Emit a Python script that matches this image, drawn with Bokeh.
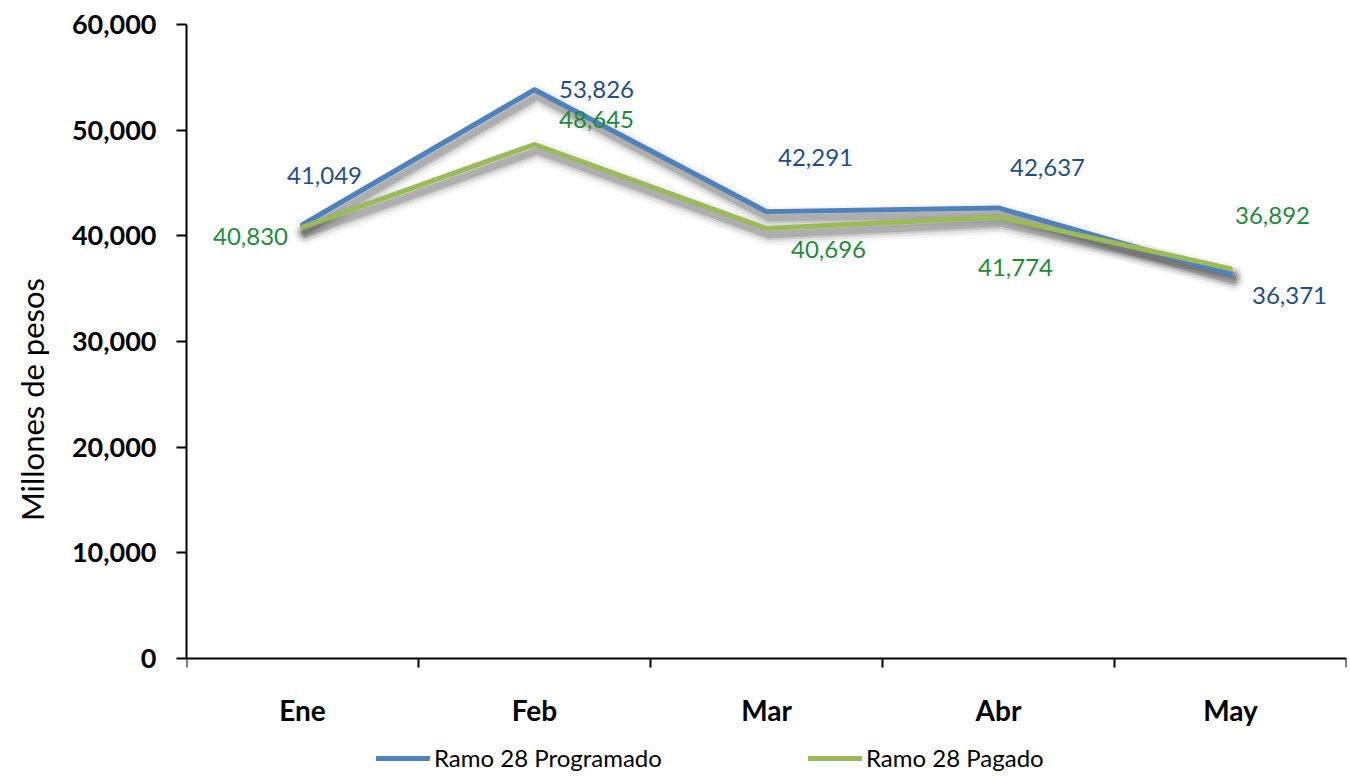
from bokeh.plotting import figure
from bokeh.models import (ColumnDataSource, FixedTicker, NumeralTickFormatter,
                          Legend, LegendItem, Range1d)
from bokeh.core.properties import value
from bokeh.embed import file_html
from bokeh.resources import INLINE

months = ["Ene", "Feb", "Mar", "Abr", "May"]
programado = [41049, 53826, 42291, 42637, 36371]
pagado = [40830, 48645, 40696, 41774, 36892]
y_ticks = [0, 10000, 20000, 30000, 40000, 50000, 60000]

# label pixel offsets (dx, dy: screen, positive = down) relative to points
prog_dx = [22, 62, 49, 49, 59]
prog_dy = [-49, 0, -54, -40, 21]
pag_dx = [-52, 62, 62, 17, 42]
pag_dy = [9, -25, 21, 50, -53]

FONT = "Lato"
xs = [i + 0.5 for i in range(len(months))]

# frame extends below the zero line to hold the category labels and legend
FRAME_H = 750
ZERO_PX = 634          # pixels from top of frame down to the zero line
y_min = -(FRAME_H - ZERO_PX) / ZERO_PX * 60000

p = figure(frame_width=1160, frame_height=FRAME_H, output_backend="svg",
           toolbar_location=None,
           x_range=Range1d(0, 5), y_range=Range1d(y_min, 60000),
           min_border_left=186, min_border_top=24, min_border_right=2,
           min_border_bottom=0)
p.outline_line_color = None
p.grid.grid_line_color = None
p.background_fill_color = "white"
p.border_fill_color = "white"

# shadows
for series in (programado, pagado):
    sx = [x + 0.012 for x in xs]
    sy = [v - 600 for v in series]
    for w, a in ((22, 0.04), (16, 0.07), (11, 0.10), (7, 0.14)):
        p.line(sx, sy, line_width=w, line_color="#000000", line_alpha=a,
               line_join="round", line_cap="round")

r1 = p.line(xs, programado, line_width=5, line_color="#4F81BD",
            line_join="round", line_cap="round")
r2 = p.line(xs, pagado, line_width=5, line_color="#9BBB59",
            line_join="round", line_cap="round")

src1 = ColumnDataSource(dict(x=xs, y=programado,
                             t=[f"{v:,}" for v in programado],
                             dx=prog_dx, dy=prog_dy))
src2 = ColumnDataSource(dict(x=xs, y=pagado,
                             t=[f"{v:,}" for v in pagado],
                             dx=pag_dx, dy=pag_dy))
p.text("x", "y", text="t", x_offset="dx", y_offset="dy", source=src1,
       text_color="#1F4E8C", text_font=value(FONT), text_font_size="24px",
       text_align="center", text_baseline="middle")
p.text("x", "y", text="t", x_offset="dx", y_offset="dy", source=src2,
       text_color="#1E8B3A", text_font=value(FONT), text_font_size="24px",
       text_align="center", text_baseline="middle")

# x axis drawn at y = 0
xa = p.xaxis[0]
xa.fixed_location = 0
xa.ticker = FixedTicker(ticks=xs, minor_ticks=[0, 1, 2, 3, 4, 5])
xa.major_label_overrides = {x: m for x, m in zip(xs, months)}
xa.major_tick_line_color = None
xa.minor_tick_in = 0
xa.minor_tick_out = 9
xa.minor_tick_line_width = 2
xa.minor_tick_line_color = "black"
xa.axis_line_width = 2
xa.axis_line_color = "black"
xa.major_label_text_font = FONT
xa.major_label_text_font_style = "bold"
xa.major_label_text_font_size = "28px"
xa.major_label_text_color = "black"
xa.major_label_standoff = 25

ya = p.yaxis[0]
ya.bounds = (0, 60000)
ya.ticker = FixedTicker(ticks=y_ticks)
ya.formatter = NumeralTickFormatter(format="0,0")
ya.minor_tick_line_color = None
ya.major_tick_in = 0
ya.major_tick_out = 10
ya.major_tick_line_width = 2
ya.axis_line_width = 2
ya.axis_line_color = "black"
ya.major_label_text_font = FONT
ya.major_label_text_font_style = "bold"
ya.major_label_text_font_size = "27px"
ya.major_label_text_color = "black"
ya.major_label_standoff = 20
ya.axis_label = "Millones de pesos"
ya.axis_label_text_font = FONT
ya.axis_label_text_font_style = "normal"
ya.axis_label_text_font_size = "31px"
ya.axis_label_text_color = "black"
ya.axis_label_standoff = 18

legend = Legend(items=[LegendItem(label="Ramo 28 Programado", renderers=[r1]),
                       LegendItem(label="Ramo 28 Pagado", renderers=[r2])],
                orientation="horizontal", location=(190, 2))
legend.border_line_color = None
legend.background_fill_alpha = 0
legend.label_text_font = FONT
legend.label_text_font_size = "24px"
legend.label_text_color = "black"
legend.glyph_width = 54
legend.glyph_height = 20
legend.label_height = 20
legend.label_width = 290
legend.label_standoff = 4
legend.spacing = 84
legend.padding = 0
legend.margin = 0
p.add_layout(legend, "center")

open("out.html", "w").write(file_html(p, INLINE))
